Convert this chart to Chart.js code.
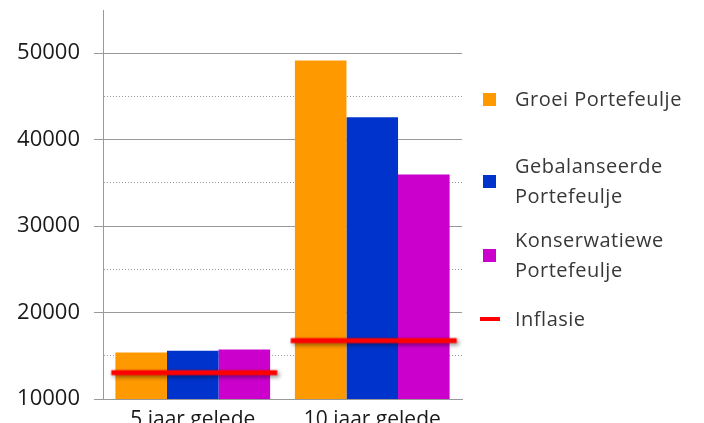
<!DOCTYPE html>
<html>
<head>
<meta charset="utf-8">
<script src="https://cdn.jsdelivr.net/npm/chart.js@4"></script>
<style>
  body { margin: 0; background: #fff; }
  #wrap { position: relative; width: 704px; height: 423px; overflow: hidden; }
  #box { position: absolute; left: 0; top: 0; width: 704px; height: 423px; }
  .item { position: absolute; left: 483px; display: flex; align-items: center;
          font-family: "Open Sans", sans-serif; font-size: 20px; letter-spacing: 0.5px;
          color: #383838; line-height: 30px; }
  .item .txt { max-width: 190px; }
  .box { width: 13px; height: 13px; margin-right: 19px; flex: none; }
  .dash { width: 20px; height: 4px; margin-left: -3px; margin-right: 15px; flex: none; }
</style>
</head>
<body>
<div id="wrap">
  <div id="box"><canvas id="chart"></canvas></div>
  <div id="legend"></div>
</div>
<script>
// data
const categories = ["5 jaar gelede", "10 jaar gelede"];
const seriesNames = ["Groei Portefeulje", "Gebalanseerde Portefeulje", "Konserwatiewe Portefeulje", "Inflasie"];
const groei = [15370, 49150];
const gebalanseerd = [15570, 42580];
const konserwatief = [15720, 35970];
const inflasie = [13050, 16760];
const yMin = 10000, yMax = 55000, yStep = 5000;

const colors = ["#ff9900", "#0033cc", "#cc00cc", "#ff0000"];
const legendTops = [84, 151, 225, 304];

// the inflation marker: a wide red dash with a soft shadow, used as point image
// (a big pointRadius would make chart.js pad the whole layout)
function makeDash(len, width, color) {
  const c = document.createElement("canvas");
  c.width = 186;
  c.height = 24;
  const ctx = c.getContext("2d");
  ctx.shadowColor = "rgba(0,0,0,0.45)";
  ctx.shadowBlur = 4;
  ctx.shadowOffsetX = 2;
  ctx.shadowOffsetY = 2;
  ctx.strokeStyle = color;
  ctx.lineWidth = width;
  ctx.beginPath();
  ctx.moveTo(11.5, 12);
  ctx.lineTo(11.5 + len, 12);
  ctx.stroke();
  return c;
}
const dashImg = makeDash(166, 5, colors[3]);

const isMajor = c => c.tick && c.tick.value % 10000 === 0;

const chart = new Chart(document.getElementById("chart"), {
  type: "bar",
  data: {
    labels: categories,
    datasets: [
      { label: seriesNames[0], data: groei, backgroundColor: colors[0], order: 1 },
      { label: seriesNames[1], data: gebalanseerd, backgroundColor: colors[1], order: 1 },
      { label: seriesNames[2], data: konserwatief, backgroundColor: colors[2], order: 1 },
      {
        type: "line", label: seriesNames[3], data: inflasie, order: 0,
        showLine: false, pointStyle: dashImg, pointRadius: 3,
        borderColor: colors[3], backgroundColor: colors[3]
      }
    ]
  },
  options: {
    responsive: true,
    maintainAspectRatio: false,
    animation: false,
    layout: { padding: { top: 10, right: 242, left: 0, bottom: 0 } },
    plugins: { legend: { display: false }, tooltip: { enabled: false } },
    datasets: { bar: { categoryPercentage: 0.862, barPercentage: 1 } },
    scales: {
      x: {
        grid: { display: false },
        border: { color: "#999", width: 1 },
        ticks: { color: "#1a1a1a", padding: 0, font: { family: "Open Sans", size: 21 } },
        afterFit: s => { s.height = 24; }
      },
      y: {
        min: yMin,
        max: yMax,
        ticks: {
          stepSize: yStep,
          autoSkip: false,
          padding: 14,
          color: "#1a1a1a",
          font: { family: "Open Sans", size: 22 },
          callback: v => (v % 10000 === 0 ? v : "")
        },
        grid: {
          color: c => (c.tick && c.tick.value === yMax ? "transparent" : "#999"),
          tickColor: c => (isMajor(c) ? "#999" : "transparent"),
          tickLength: 9,
          lineWidth: 1
        },
        border: { color: "#999", width: 1, dash: c => (c.tick && !isMajor(c) ? [1, 2] : []) },
        afterFit: s => {
          s.width = 103;
          s.paddingTop = 0;
          s.paddingBottom = 0;
        }
      }
    }
  }
});

// legend on the right, as html text
const legend = document.getElementById("legend");
seriesNames.forEach((name, i) => {
  const item = document.createElement("div");
  item.className = "item";
  item.style.top = legendTops[i] + "px";
  const mark = document.createElement("span");
  mark.className = i === 3 ? "dash" : "box";
  mark.style.background = colors[i];
  const txt = document.createElement("span");
  txt.className = "txt";
  txt.textContent = name;
  item.appendChild(mark);
  item.appendChild(txt);
  legend.appendChild(item);
});
</script>
</body>
</html>
